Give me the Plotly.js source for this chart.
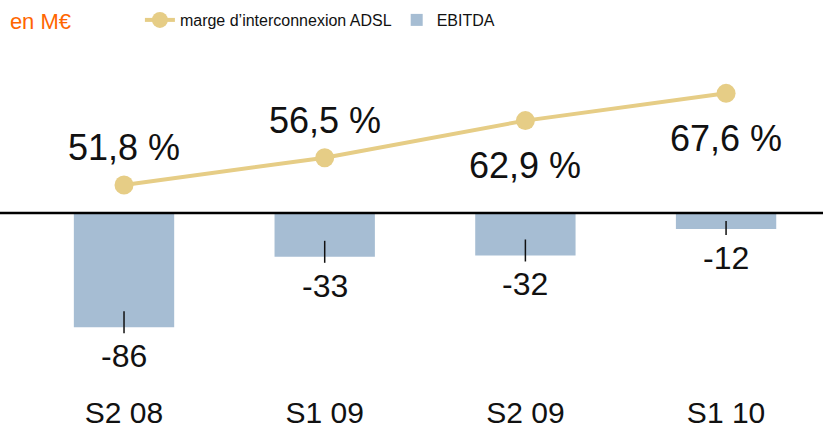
<!DOCTYPE html>
<html>
<head>
<meta charset="utf-8">
<script src="https://cdn.plot.ly/plotly-3.0.1.min.js"></script>
<style>html,body{margin:0;padding:0;background:#fff;}#chart{width:823px;height:428px;}</style>
</head>
<body>
<div id="chart"></div>
<script>
const categories = ['S2 08', 'S1 09', 'S2 09', 'S1 10'];
const ebitda = [-86, -33, -32, -12];
const marge = [51.8, 56.5, 62.9, 67.6];
const margeLabels = ['51,8 %', '56,5 %', '62,9 %', '67,6 %'];
const margeLabelSide = ['above', 'above', 'below', 'below'];

const FONT = 'Liberation Sans, Arial, sans-serif';
const barColor = '#A6BDD3';
const lineColor = '#E6CD86';

const traces = [
  {
    type: 'scatter', mode: 'lines+markers',
    name: 'marge d\u2019interconnexion ADSL',
    x: categories, y: marge, yaxis: 'y2',
    line: {color: lineColor, width: 4},
    marker: {color: lineColor, size: 19},
    hoverinfo: 'skip'
  },
  {
    type: 'bar', name: 'EBITDA',
    x: categories, y: ebitda,
    marker: {color: barColor},
    width: 0.5,
    hoverinfo: 'skip'
  }
];

const annotations = [];
const shapes = [];
const pxPerUnit = 1.328;
categories.forEach((c, i) => {
  annotations.push({
    x: c, y: marge[i], xref: 'x', yref: 'y2',
    text: margeLabels[i], showarrow: false,
    yanchor: 'middle',
    yshift: margeLabelSide[i] === 'above' ? 37 : -45,
    font: {family: FONT, size: 36, color: '#111'}
  });
  annotations.push({
    x: c, y: ebitda[i], xref: 'x', yref: 'y',
    text: String(ebitda[i]), showarrow: false,
    yanchor: 'middle', yshift: -29,
    font: {family: FONT, size: 32, color: '#111'}
  });
  const up = Math.min(16, Math.abs(ebitda[i]) * pxPerUnit * 0.5);
  shapes.push({
    type: 'line', xref: 'x', yref: 'y',
    x0: i, x1: i,
    ysizemode: 'pixel', yanchor: ebitda[i], y0: -6, y1: up,
    line: {color: '#111', width: 1.5}
  });
});
shapes.push({
  type: 'line', xref: 'paper', yref: 'y', x0: 0, x1: 1, y0: 0, y1: 0,
  line: {color: '#000', width: 2.5}, layer: 'above'
});

const layout = {
  width: 823, height: 428,
  margin: {l: 0, r: 0, t: 60, b: 38, pad: 0},
  paper_bgcolor: '#fff', plot_bgcolor: '#fff',
  font: {family: FONT, color: '#111'},
  showlegend: true,
  title: {
    text: 'en M\u20ac', x: 0.012, xanchor: 'left', xref: 'container',
    y: 0.95, yanchor: 'middle', yref: 'container',
    font: {family: FONT, size: 22, color: '#FF6600'}
  },
  legend: {
    orientation: 'h', x: 0.170, xanchor: 'left', xref: 'container',
    y: 0.993, yanchor: 'top', yref: 'container',
    font: {family: FONT, size: 16, color: '#111'},
    traceorder: 'normal', itemclick: false, bgcolor: 'rgba(0,0,0,0)'
  },
  xaxis: {
    type: 'category', range: [-0.618, 3.483],
    showgrid: false, zeroline: false, showline: false, ticks: '',
    tickfont: {family: FONT, size: 30, color: '#111'},
    ticklabelstandoff: 2, fixedrange: true
  },
  yaxis: {
    range: [-133.3, 115.2], showgrid: false, zeroline: false,
    showline: false, showticklabels: false, ticks: '', fixedrange: true
  },
  yaxis2: {
    range: [16.45, 73.35], overlaying: 'y', side: 'right',
    showgrid: false, zeroline: false, showline: false,
    showticklabels: false, ticks: '', fixedrange: true
  },
  annotations: annotations,
  shapes: shapes
};

Plotly.newPlot('chart', traces, layout, {displayModeBar: false, staticPlot: true});
</script>
</body>
</html>
